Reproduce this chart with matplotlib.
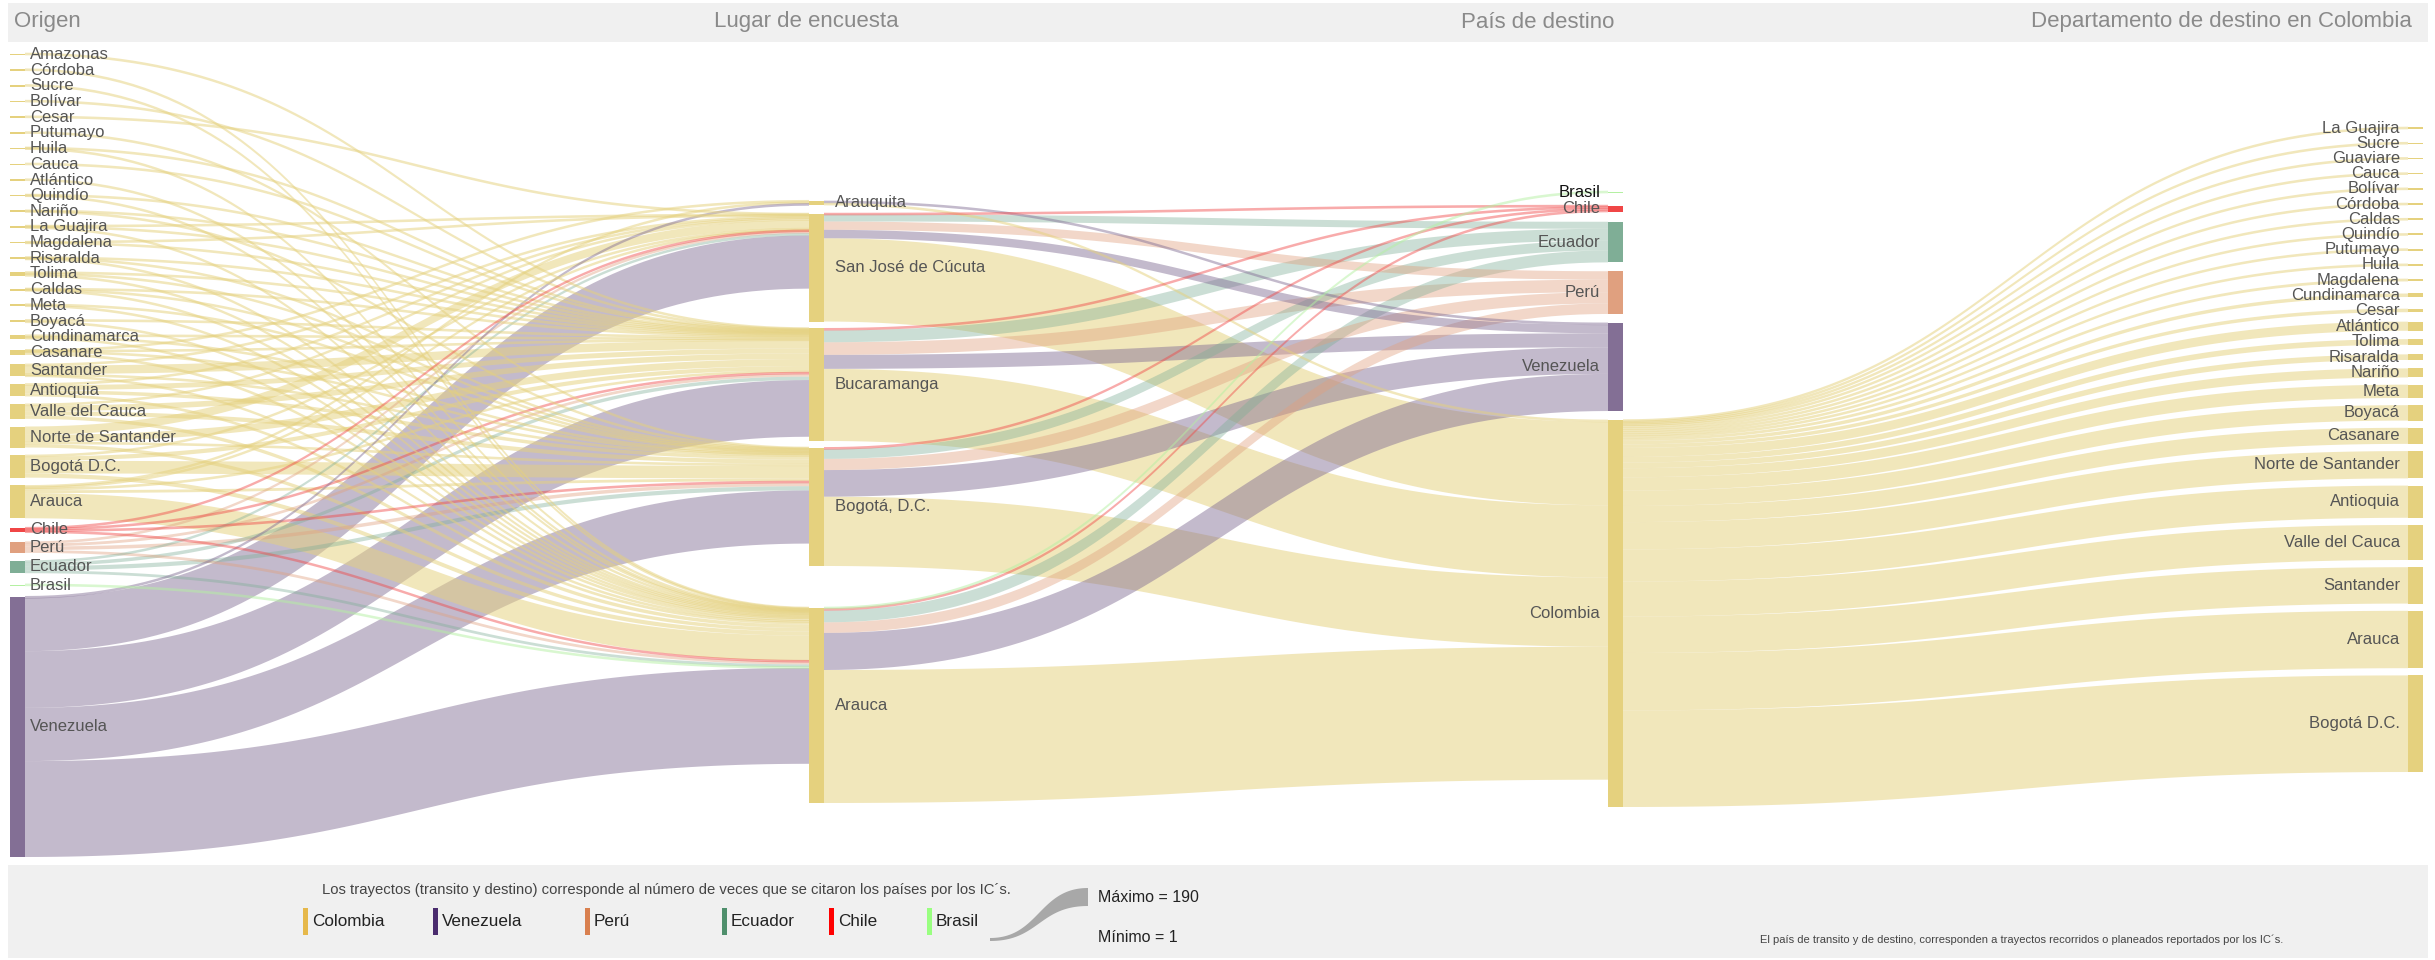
import matplotlib
matplotlib.use("Agg")
import matplotlib.pyplot as plt
from matplotlib.patches import Rectangle
import numpy as np

plt.rcParams['font.family'] = ['Liberation Sans', 'DejaVu Sans']

# ---------------- datos ----------------
origen = ["Amazonas", "Córdoba", "Sucre", "Bolívar", "Cesar", "Putumayo", "Huila", "Cauca",
          "Atlántico", "Quindío", "Nariño", "La Guajira", "Magdalena", "Risaralda", "Tolima",
          "Caldas", "Meta", "Boyacá", "Cundinamarca", "Casanare", "Santander", "Antioquia",
          "Valle del Cauca", "Norte de Santander", "Bogotá D.C.", "Arauca",
          "Chile", "Perú", "Ecuador", "Brasil", "Venezuela"]
encuesta = ["Arauquita", "San José de Cúcuta", "Bucaramanga", "Bogotá, D.C.", "Arauca"]
destino = ["Brasil", "Chile", "Ecuador", "Perú", "Venezuela", "Colombia"]
depto_destino = ["La Guajira", "Sucre", "Guaviare", "Cauca", "Bolívar", "Córdoba", "Caldas",
                 "Quindío", "Putumayo", "Huila", "Magdalena", "Cundinamarca", "Cesar",
                 "Atlántico", "Tolima", "Risaralda", "Nariño", "Meta", "Boyacá", "Casanare",
                 "Norte de Santander", "Antioquia", "Valle del Cauca", "Santander", "Arauca",
                 "Bogotá D.C."]

# origen -> lugar de encuesta (mismo orden que `encuesta`)
origen_a_encuesta = {
    "Amazonas":           [0, 0, 1, 0, 0],
    "Córdoba":            [0, 0, 0, 0, 1],
    "Sucre":              [0, 0, 0, 0, 1],
    "Bolívar":            [0, 0, 1, 0, 0],
    "Cesar":              [0, 1, 0, 0, 0],
    "Putumayo":           [0, 0, 0, 1, 0],
    "Huila":              [0, 0, 1, 0, 1],
    "Cauca":              [0, 0, 1, 0, 0],
    "Atlántico":          [0, 0, 0, 0, 1],
    "Quindío":            [0, 0, 1, 0, 1],
    "Nariño":             [0, 0, 1, 1, 0],
    "La Guajira":         [0, 1, 1, 0, 1],
    "Magdalena":          [0, 1, 1, 0, 0],
    "Risaralda":          [0, 0, 1, 1, 1],
    "Tolima":             [0, 0, 2, 2, 2],
    "Caldas":             [0, 0, 1, 1, 1],
    "Meta":               [0, 0, 0, 1, 2],
    "Boyacá":             [0, 0, 2, 0, 2],
    "Cundinamarca":       [0, 0, 2, 2, 1],
    "Casanare":           [1, 0, 1, 1, 4],
    "Santander":          [0, 2, 12, 2, 1],
    "Antioquia":          [0, 2, 7, 5, 4],
    "Valle del Cauca":    [0, 2, 8, 6, 5],
    "Norte de Santander": [0, 12, 10, 3, 5],
    "Bogotá D.C.":        [0, 2, 6, 18, 6],
    "Arauca":             [3, 1, 3, 4, 36],
    "Chile":              [0, 1, 2, 2, 1],
    "Perú":               [0, 3, 4, 5, 4],
    "Ecuador":            [0, 3, 5, 6, 4],
    "Brasil":             [0, 0, 0, 0, 1],
    "Venezuela":          [2, 76, 81, 76, 137],
}

# lugar de encuesta -> país de destino (mismo orden que `destino`)
encuesta_a_destino = {
    "Arauquita":          [0, 0, 0, 0, 3, 3],
    "San José de Cúcuta": [0, 1, 10, 12, 12, 119],
    "Bucaramanga":        [0, 3, 17, 18, 20, 103],
    "Bogotá, D.C.":       [0, 2, 14, 16, 38, 99],
    "Arauca":             [1, 3, 17, 15, 53, 190],
}

# Colombia -> departamento de destino (mismo orden que `depto_destino`)
colombia_a_depto = [2, 2, 2, 2, 3, 3, 3, 3, 3, 3, 4, 5, 5, 13, 8, 8, 13, 19, 22, 23,
                    39, 46, 50, 52, 82, 138]

paises = ["Colombia", "Venezuela", "Perú", "Ecuador", "Chile", "Brasil"]
titulos = ["Origen", "Lugar de encuesta", "País de destino", "Departamento de destino en Colombia"]

# ---------------- estilo / layout (px) ----------------
W, H = 2435, 960
SCALE = 0.70                     # px por unidad
MIN_SLOT = 8                     # alto mínimo reservado por nodo
col_x = [10, 809, 1608, 2408]
bar_w = 15
col_span = [(50, 857), (199, 803), (188, 807), (124, 772)]
extra_gap = {(1, "Arauca"): 35}

node_color = {"Colombia": "#e5d17e", "Venezuela": "#836f95", "Perú": "#e0a07f",
              "Ecuador": "#7fae96", "Chile": "#f04646", "Brasil": "#b4f0a2"}
link_alpha = {"Colombia": 0.52, "Venezuela": 0.48, "Perú": 0.42, "Ecuador": 0.4,
              "Chile": 0.45, "Brasil": 0.5}
legend_color = {"Colombia": "#e6b84a", "Venezuela": "#4a2c6e", "Perú": "#d9804f",
                "Ecuador": "#4f8f6c", "Chile": "#ff0000", "Brasil": "#99ff80"}
legend_x = [303, 433, 585, 722, 829, 927]

# ---------------- construir grafo ----------------
columns = [origen, encuesta, destino, depto_destino]

def pais_de(c, name):
    if c == 0:
        return name if name in paises else "Colombia"
    if c == 2:
        return name
    return "Colombia"

links = []
for o in origen:
    for j, v in enumerate(origen_a_encuesta[o]):
        if v:
            links.append(((0, o), (1, encuesta[j]), v, pais_de(0, o)))
for e in encuesta:
    for j, v in enumerate(encuesta_a_destino[e]):
        if v:
            links.append(((1, e), (2, destino[j]), v, destino[j]))
for j, v in enumerate(colombia_a_depto):
    links.append(((2, "Colombia"), (3, depto_destino[j]), v, "Colombia"))

val_in, val_out = {}, {}
for s, t, v, _ in links:
    val_out[s] = val_out.get(s, 0) + v
    val_in[t] = val_in.get(t, 0) + v

node_y, node_h = {}, {}
for c, names in enumerate(columns):
    hs = [max(val_in.get((c, n), 0), val_out.get((c, n), 0)) * SCALE for n in names]
    slots = [max(h, MIN_SLOT) for h in hs]
    extra = sum(extra_gap.get((c, n), 0) for n in names)
    top, bot = col_span[c]
    gap = (bot - top - sum(slots) - extra) / (len(names) - 1)
    y = top
    for n, h, sl in zip(names, hs, slots):
        y += extra_gap.get((c, n), 0)
        node_y[(c, n)] = y + (sl - h) / 2
        node_h[(c, n)] = h
        y += sl + gap

# posiciones de los enlaces dentro de cada nodo
out_off, in_off = {}, {}
for k in node_y:
    outs = sorted([l for l in links if l[0] == k], key=lambda l: node_y[l[1]])
    y = node_y[k]
    for l in outs:
        out_off[id(l)] = y
        y += l[2] * SCALE
    ins = sorted([l for l in links if l[1] == k], key=lambda l: node_y[l[0]])
    y = node_y[k]
    for l in ins:
        in_off[id(l)] = y
        y += l[2] * SCALE


def banda(ax, x0, y0a, y0b, x1, y1a, y1b, **kw):
    t = np.linspace(0, 1, 80)
    xm = (x0 + x1) / 2
    bx = (1 - t) ** 3 * x0 + 3 * (1 - t) ** 2 * t * xm + 3 * (1 - t) * t ** 2 * xm + t ** 3 * x1
    s = 3 * t ** 2 - 2 * t ** 3
    top = y0a + (y1a - y0a) * s
    bot = y0b + (y1b - y0b) * s
    ax.fill(np.r_[bx, bx[::-1]], np.r_[top, bot[::-1]], lw=0, **kw)


fig = plt.figure(figsize=(W / 100, H / 100), dpi=100)
ax = fig.add_axes([0, 0, 1, 1])
ax.set_xlim(0, W)
ax.set_ylim(H, 0)
ax.axis("off")

# bandas de encabezado y pie
ax.add_patch(Rectangle((8, 3), 2420, 39, color="#f0f0f0", lw=0, zorder=0))
ax.add_patch(Rectangle((8, 865), 2420, 93, color="#f0f0f0", lw=0, zorder=0))

ax.text(14, 22, titulos[0], ha="left", va="center", fontsize=16, color="#8a8a8a")
ax.text(806, 22, titulos[1], ha="center", va="center", fontsize=16, color="#8a8a8a")
ax.text(1538, 22, titulos[2], ha="center", va="center", fontsize=16, color="#8a8a8a")
ax.text(2412, 22, titulos[3], ha="right", va="center", fontsize=16, color="#8a8a8a")

# enlaces
for l in sorted(links, key=lambda l: -l[2]):
    s, t, v, p = l
    th = v * SCALE
    ya, yb = out_off[id(l)], in_off[id(l)]
    pad = max(0, 2.6 - th) / 2
    banda(ax, col_x[s[0]] + bar_w, ya - pad, ya + th + pad,
          col_x[t[0]], yb - pad, yb + th + pad,
          color=node_color[p], alpha=link_alpha[p], zorder=1)

# nodos y etiquetas
for (c, n), y in node_y.items():
    h = max(node_h[(c, n)], 1.5)
    p = pais_de(c, n)
    ax.add_patch(Rectangle((col_x[c], y), bar_w, h, color=node_color[p], lw=0, zorder=3))
    yc = y + h / 2
    col = "#111111" if (c == 2 and n == "Brasil") else "#555555"
    if c == 0:
        ax.text(col_x[0] + bar_w + 5, yc, n, ha="left", va="center", fontsize=12, color=col, zorder=4)
    elif c == 1:
        ax.text(col_x[1] + bar_w + 11, yc, n, ha="left", va="center", fontsize=12, color=col, zorder=4)
    else:
        ax.text(col_x[c] - 8, yc, n, ha="right", va="center", fontsize=12, color=col, zorder=4)

# leyenda
ax.text(322, 890, "Los trayectos (transito y destino) corresponde al número de veces que se citaron los países por los IC´s.",
        ha="left", va="center", fontsize=10.7, color="#444444")
for p, x in zip(paises, legend_x):
    ax.add_patch(Rectangle((x, 908), 5, 27, color=legend_color[p], lw=0))
    ax.text(x + 9, 921, p, ha="left", va="center", fontsize=12.3, color="#222222")

banda(ax, 990, 938, 941, 1088, 888, 906, color="#a8a8a8", zorder=2)
ax.text(1098, 898, "Máximo = 190", ha="left", va="center", fontsize=11.5, color="#222222")
ax.text(1098, 938, "Mínimo = 1", ha="left", va="center", fontsize=11.5, color="#222222")

ax.text(2022, 940, "El país de transito y de destino, corresponden a trayectos recorridos o planeados reportados por los IC´s.",
        ha="center", va="center", fontsize=8, color="#444444")

fig.savefig("out.png", dpi=100)
